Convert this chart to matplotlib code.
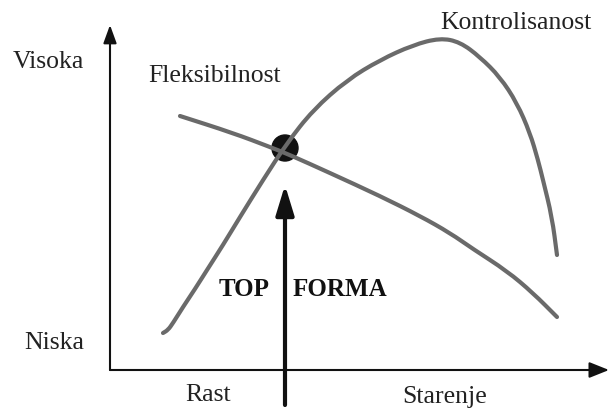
import matplotlib
matplotlib.use("Agg")
import matplotlib.pyplot as plt
from matplotlib.patches import Ellipse, PathPatch
from matplotlib.path import Path

W, H = 609, 411

kontrol_x = [163, 168, 173, 183, 195, 207, 223, 240, 263, 287, 313, 347, 380, 413, 440, 460, 480, 500, 517, 530, 538, 543, 552, 557]
kontrol_y = [333, 330, 323, 307, 289, 270, 245, 217, 180, 143, 110, 80, 60, 45, 38, 42, 57, 77, 103, 133, 160, 180, 217, 255]

fleks_x = [180, 233, 270, 290, 330, 380, 420, 450, 473, 507, 533, 557]
fleks_y = [116, 133, 147, 155, 173, 196, 216, 233, 249, 271, 293, 317]

peak_point = (285, 148)

labels = {
    "Visoka": (48, 62),
    "Niska": (54, 343),
    "Rast": (208, 395),
    "Starenje": (445, 397),
    "Fleksibilnost": (215, 76),
    "Kontrolisanost": (516, 23),
}
bold_labels = {"TOP": (244, 289), "FORMA": (340, 289)}

axis_origin = (110, 370)
y_axis_top = 25
x_axis_end = 609
arrow_tail = 405
arrow_tip = 185


def smooth_path(xs, ys):
    """Quadratic-Bezier path through the read points (corners rounded)."""
    pts = list(zip(xs, ys))
    verts = [pts[0]]
    codes = [Path.MOVETO]
    mids = [((pts[i][0] + pts[i + 1][0]) / 2, (pts[i][1] + pts[i + 1][1]) / 2) for i in range(len(pts) - 1)]
    verts.append(mids[0]); codes.append(Path.LINETO)
    for i in range(1, len(pts) - 1):
        verts += [pts[i], mids[i]]
        codes += [Path.CURVE3, Path.CURVE3]
    verts.append(pts[-1]); codes.append(Path.LINETO)
    return Path(verts, codes)


fig = plt.figure(figsize=(W / 100, H / 100), dpi=100)
ax = fig.add_axes([0, 0, 1, 1])
ax.set_xlim(0, W)
ax.set_ylim(H, 0)
ax.axis("off")

grey = "#6a6a6a"
for xs, ys in [(kontrol_x, kontrol_y), (fleks_x, fleks_y)]:
    ax.add_patch(PathPatch(smooth_path(xs, ys), facecolor="none", edgecolor=grey, lw=3.0,
                           capstyle="round", joinstyle="round", zorder=3))

ax.add_patch(Ellipse(peak_point, 26, 26, color="#111111", zorder=2))

# axes arrows
ax.annotate("", xy=(axis_origin[0], y_axis_top), xytext=(axis_origin[0], axis_origin[1]),
            arrowprops=dict(arrowstyle="-|>,head_length=11,head_width=4", mutation_scale=1,
                            color="#111111", lw=1.5, shrinkA=0, shrinkB=0))
ax.annotate("", xy=(x_axis_end, axis_origin[1]), xytext=(axis_origin[0], axis_origin[1]),
            arrowprops=dict(arrowstyle="-|>,head_length=12,head_width=4.8", mutation_scale=1,
                            color="#111111", lw=1.5, shrinkA=0, shrinkB=0))
ax.annotate("", xy=(peak_point[0], arrow_tip), xytext=(peak_point[0], arrow_tail),
            arrowprops=dict(arrowstyle="-|>,head_length=18,head_width=5.5", mutation_scale=1,
                            color="#111111", lw=3, shrinkA=0, shrinkB=0))

for t, (x, y) in labels.items():
    ax.text(x, y, t, ha="center", va="center", fontsize=18.5, family="Liberation Serif", color="#222222")
for t, (x, y) in bold_labels.items():
    ax.text(x, y, t, ha="center", va="center", fontsize=18, family="Liberation Serif",
            fontweight="bold", color="#111111")

fig.savefig("out.png", dpi=100)
